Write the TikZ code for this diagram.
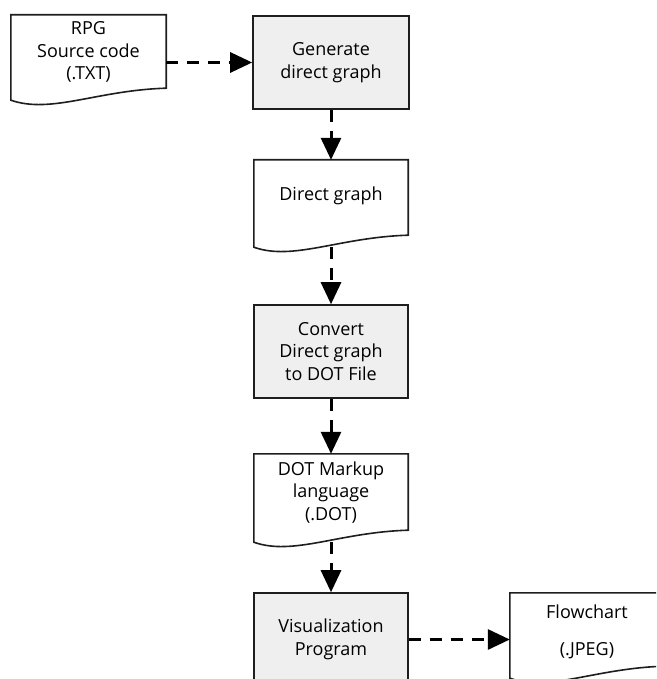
\documentclass[tikz,border=0pt]{standalone}
\usepackage{fontspec}
\setmainfont{Open Sans}
\usetikzlibrary{arrows.meta,calc}

\definecolor{procfill}{HTML}{EFEFEF}
\definecolor{edgecol}{HTML}{1E1E1E}
\newcommand\labelfont{\fontsize{18}{22.5}\selectfont}

\tikzset{
  shapebox/.style={rectangle, inner sep=0pt, minimum width=154pt},
  procbox/.style={shapebox, draw=edgecol, line width=1.6pt, fill=procfill,
    font=\labelfont, align=center, text=black},
  docbox/.style={shapebox},
  docline/.style={draw=edgecol, line width=1.6pt, fill=white, line join=miter},
  doctext/.style={font=\labelfont, align=center, inner sep=0pt, text=black},
  flowarrow/.style={line width=3pt, draw=black, dash pattern=on 12pt off 9pt,
    -{Triangle[length=22pt,width=20pt]}},
}

% document symbol: straight top and sides, wavy bottom edge
\newcommand\docoutline[1]{%
  \path[docline] (#1.south west) -- (#1.north west) -- (#1.north east)
    -- ([yshift=12pt]#1.south east)
    .. controls ([xshift=-69pt,yshift=10pt]#1.south east)
       and ([xshift=-115pt,yshift=-14pt]#1.south east) .. (#1.south west) -- cycle;}

\begin{document}
\begin{tikzpicture}[x=1pt,y=-1pt]
  \useasboundingbox (0,0) rectangle (656,679);
  \clip (0,0) rectangle (656,679);

  % input document
  \node[docbox, minimum width=155pt, minimum height=85pt] (rpg) at (88.5,57.5) {};
  \docoutline{rpg}
  \node[doctext] (rpgt) at ([yshift=5.5pt]rpg.center) {RPG\\Source code\\(.TXT)};

  % processing column
  \node[procbox, minimum width=156pt, minimum height=93pt] (gen) at (331,62.5) {Generate\\direct graph};

  \node[docbox, minimum height=87pt] (dg) at (331,203.5) {};
  \docoutline{dg}
  \node[doctext] (dgt) at ([yshift=7.5pt]dg.center) {Direct graph};

  \node[procbox, minimum height=93pt] (conv) at (331,351.5) {Convert\\Direct graph\\to DOT File};

  \node[docbox, minimum height=88pt] (dot) at (331,498) {};
  \docoutline{dot}
  \node[doctext] (dott) at ([yshift=5.5pt]dot.center) {DOT Markup\\language\\(.DOT)};

  \node[procbox, minimum height=93pt] (vis) at (331,639.5) {Visualization\\Program};

  % output document
  \node[docbox, minimum height=85pt] (flow) at (587,635.5) {};
  \docoutline{flow}
  \node[doctext] (flowt) at ([yshift=4pt]flow.center) {Flowchart\\[14.5pt](.JPEG)};

  % connectors
  \draw[flowarrow] (gen.west -| rpg.east) -- (gen.west);
  \draw[flowarrow] (gen.south) -- (dg.north);
  \draw[flowarrow] (dg.south) -- (conv.north);
  \draw[flowarrow] (conv.south) -- (dot.north);
  \draw[flowarrow] (dot.south) -- (vis.north);
  \draw[flowarrow] (vis.east) -- (vis.east -| flow.west);
\end{tikzpicture}
\end{document}
